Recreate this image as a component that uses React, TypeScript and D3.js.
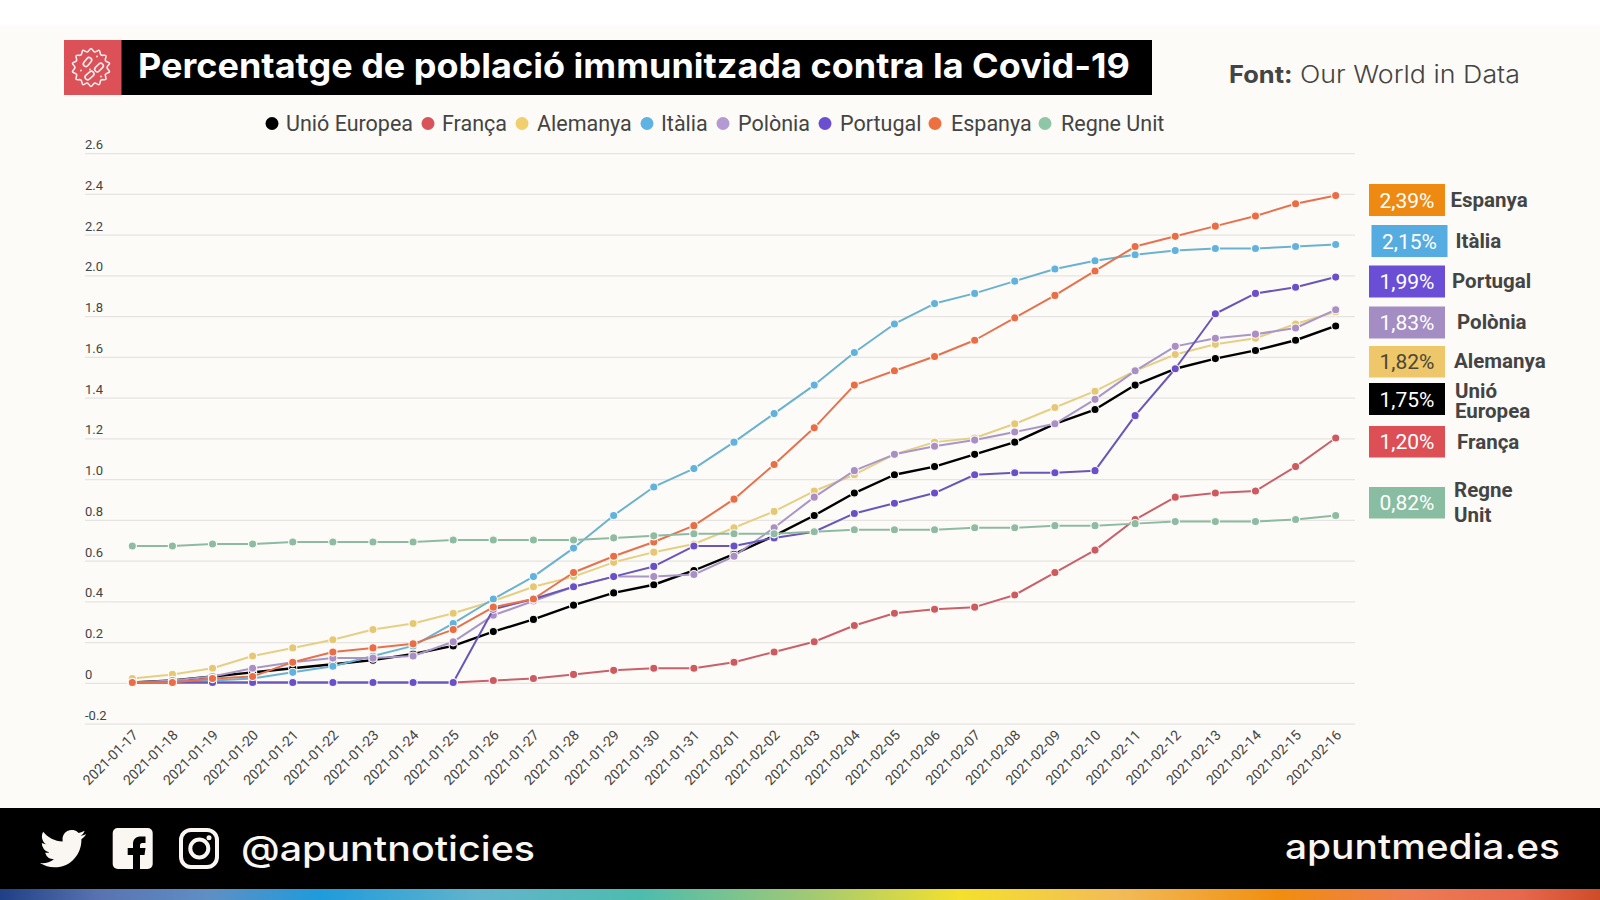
import React from "react";
import * as d3 from "d3";

const dates = ["2021-01-17","2021-01-18","2021-01-19","2021-01-20","2021-01-21","2021-01-22","2021-01-23","2021-01-24","2021-01-25","2021-01-26","2021-01-27","2021-01-28","2021-01-29","2021-01-30","2021-01-31","2021-02-01","2021-02-02","2021-02-03","2021-02-04","2021-02-05","2021-02-06","2021-02-07","2021-02-08","2021-02-09","2021-02-10","2021-02-11","2021-02-12","2021-02-13","2021-02-14","2021-02-15","2021-02-16"];
const yTicks = [-0.2,0,0.2,0.4,0.6,0.8,1.0,1.2,1.4,1.6,1.8,2.0,2.2,2.4,2.6];

const unioEuropea = [0,0.01,0.03,0.05,0.07,0.09,0.11,0.14,0.18,0.25,0.31,0.38,0.44,0.48,0.55,0.63,0.72,0.82,0.93,1.02,1.06,1.12,1.18,1.27,1.34,1.46,1.54,1.59,1.63,1.68,1.75];
const franca = [0,0,0,0,0,0,0,0,0,0.01,0.02,0.04,0.06,0.07,0.07,0.10,0.15,0.20,0.28,0.34,0.36,0.37,0.43,0.54,0.65,0.80,0.91,0.93,0.94,1.06,1.20];
const alemanya = [0.02,0.04,0.07,0.13,0.17,0.21,0.26,0.29,0.34,0.40,0.47,0.52,0.59,0.64,0.68,0.76,0.84,0.94,1.02,1.12,1.18,1.20,1.27,1.35,1.43,1.53,1.61,1.66,1.69,1.76,1.82];
const italia = [0,0.005,0.01,0.02,0.05,0.08,0.13,0.18,0.29,0.41,0.52,0.66,0.82,0.96,1.05,1.18,1.32,1.46,1.62,1.76,1.86,1.91,1.97,2.03,2.07,2.10,2.12,2.13,2.13,2.14,2.15];
const polonia = [0,0.01,0.03,0.07,0.10,0.12,0.12,0.13,0.20,0.33,0.40,0.47,0.52,0.52,0.53,0.62,0.76,0.91,1.04,1.12,1.16,1.19,1.23,1.27,1.39,1.53,1.65,1.69,1.71,1.74,1.83];
const portugal = [0,0,0,0,0,0,0,0,0,0.36,0.41,0.47,0.52,0.57,0.67,0.67,0.71,0.74,0.83,0.88,0.93,1.02,1.03,1.03,1.04,1.31,1.54,1.81,1.91,1.94,1.99];
const espanya = [0,0,0.02,0.03,0.10,0.15,0.17,0.19,0.26,0.37,0.41,0.54,0.62,0.69,0.77,0.90,1.07,1.25,1.46,1.53,1.60,1.68,1.79,1.90,2.02,2.14,2.19,2.24,2.29,2.35,2.39];
const regneUnit = [0.67,0.67,0.68,0.68,0.69,0.69,0.69,0.69,0.70,0.70,0.70,0.70,0.71,0.72,0.73,0.73,0.73,0.74,0.75,0.75,0.75,0.76,0.76,0.77,0.77,0.78,0.79,0.79,0.79,0.80,0.82];

const seriesList = [
  { name: "Unió Europea", values: unioEuropea, line: "#000000", dot: "#000000", w: 2.4 },
  { name: "França", values: franca, line: "#c9606a", dot: "#cc5a5f", w: 2 },
  { name: "Alemanya", values: alemanya, line: "#e6cf85", dot: "#e6c874", w: 2 },
  { name: "Itàlia", values: italia, line: "#6bb2d0", dot: "#62b2de", w: 2 },
  { name: "Polònia", values: polonia, line: "#a896c8", dot: "#a98fc4", w: 2 },
  { name: "Portugal", values: portugal, line: "#6a55b8", dot: "#6a50c8", w: 2 },
  { name: "Espanya", values: espanya, line: "#e5714e", dot: "#e96d45", w: 2 },
  { name: "Regne Unit", values: regneUnit, line: "#8fbaa2", dot: "#8fbba3", w: 2 },
];

const legendDotX = [272, 428, 522, 647, 723, 825, 935, 1045];
const legendTextX = [286, 442, 537, 661, 738, 840, 951, 1061];
const legendDots = ["#000000", "#d9545a", "#f0cf6c", "#5fb3e3", "#b39ad2", "#6a4fd0", "#ee7040", "#8fc6a8"];

const badges = [
  { v: "2,39%", c: "#ee8a12", x: 1369, y: 184, h: 32, t: "#ffffff", label: ["Espanya"], lx: 1450.5, ly: [207] },
  { v: "2,15%", c: "#55ace0", x: 1371.5, y: 225, h: 32, t: "#ffffff", label: ["Itàlia"], lx: 1455.5, ly: [248] },
  { v: "1,99%", c: "#6a4ed6", x: 1369, y: 265.5, h: 32, t: "#ffffff", label: ["Portugal"], lx: 1452, ly: [288] },
  { v: "1,83%", c: "#a38dc2", x: 1369, y: 306.5, h: 32, t: "#ffffff", label: ["Polònia"], lx: 1457, ly: [329] },
  { v: "1,82%", c: "#eec76a", x: 1369, y: 346, h: 31.5, t: "#4a4636", label: ["Alemanya"], lx: 1454, ly: [368] },
  { v: "1,75%", c: "#000000", x: 1369, y: 383, h: 32, t: "#ffffff", label: ["Unió", "Europea"], lx: 1455, ly: [398, 418] },
  { v: "1,20%", c: "#dc4f55", x: 1369, y: 426, h: 31.5, t: "#ffffff", label: ["França"], lx: 1457, ly: [449] },
  { v: "0,82%", c: "#88bda2", x: 1369, y: 487, h: 31.5, t: "#ffffff", label: ["Regne", "Unit"], lx: 1454, ly: [497, 522] },
];

const gradientStops: [number, string][] = [
  [0, "#1f3f86"], [0.06, "#5872b0"], [0.13, "#5f8fc4"], [0.2, "#1f9bdc"], [0.3, "#62b4cc"], [0.4, "#4dbcae"],
  [0.5, "#9cc878"], [0.6, "#f4e02e"], [0.7, "#f2bb58"], [0.8, "#f18d10"], [0.88, "#ee7c52"], [0.95, "#e6684e"], [1, "#cf4c28"],
];

const W = 1600, H = 900;
const x = d3.scalePoint<string>().domain(dates).range([132.3, 1335.7]);
const y = d3.scaleLinear().domain([-0.2, 2.6]).range([724.1, 153.6]);
const seriesY = (v: number) => y(v) - 0.8;
const lineGen = d3.line<number>().x((_, i) => x(dates[i]) as number).y((d) => seriesY(d));

const sans = "Roboto, sans-serif";
const display = "Inter, 'Open Sans', sans-serif";

const gearPath = d3.lineRadial<number>().curve(d3.curveCatmullRomClosed)
  .angle((_, i) => (i / 28) * 2 * Math.PI)
  .radius((_, i) => (i % 2 === 0 ? 19 : 16))(d3.range(28)) as string;

const pills = [[-3.5, -5.5, 50], [8, 0, 45], [-1.5, 8, 40]];
const specks = [[6, -11], [-10, 3], [-1, 2], [10, 9]];

const twitter = "M23.953 4.57a10 10 0 01-2.825.775 4.958 4.958 0 002.163-2.723c-.951.555-2.005.959-3.127 1.184a4.92 4.92 0 00-8.384 4.482C7.69 8.095 4.067 6.13 1.64 3.162a4.822 4.822 0 00-.666 2.475c0 1.71.87 3.213 2.188 4.096a4.904 4.904 0 01-2.228-.616v.06a4.923 4.923 0 003.946 4.827 4.996 4.996 0 01-2.212.085 4.936 4.936 0 004.604 3.417 9.867 9.867 0 01-6.102 2.105c-.39 0-.779-.023-1.17-.067a13.995 13.995 0 007.557 2.209c9.053 0 13.998-7.496 13.998-13.985 0-.21 0-.42-.015-.63A9.935 9.935 0 0024 4.59z";

export default function App() {
  return (
    <svg width={W} height={H} viewBox={`0 0 ${W} ${H}`} style={{ position: "absolute", left: 0, top: 0, display: "block" }}>
      <defs>
        <linearGradient id="rainbow" x1="0" x2="1" y1="0" y2="0">
          {gradientStops.map(([o, c]) => <stop key={o} offset={o} stopColor={c} />)}
        </linearGradient>
      </defs>
      <rect width={W} height={H} fill="#ffffff" />
      <rect y={26} width={W} height={782} fill="#fcfbf7" />

      {/* Title */}
      <rect x={64} y={40} width={1088} height={55} fill="#000000" />
      <rect x={64} y={40} width={57.5} height={55} fill="#dc5058" />
      <g transform="translate(91,67.5)" fill="none" stroke="#fbeeee" strokeWidth={1.6}>
        <path d={gearPath} />
        {pills.map(([px, py, r], i) => (
          <rect key={i} x={-5} y={-2.6} width={10} height={5.2} rx={2.6} transform={`translate(${px},${py}) rotate(${-r})`} />
        ))}
        {specks.map(([sx, sy], i) => <circle key={i} cx={sx} cy={sy} r={0.9} fill="#fbeeee" stroke="none" />)}
      </g>
      <text x={138} y={78} fontFamily={display} fontWeight={700} fontSize={34} fill="#ffffff" textLength={992} lengthAdjust="spacingAndGlyphs">Percentatge de població immunitzada contra la Covid-19</text>
      <text x={1229} y={83} fontFamily={display} fontWeight={700} fontSize={24} fill="#444444" textLength={63.5} lengthAdjust="spacingAndGlyphs">Font:</text>
      <text x={1300} y={83} fontFamily={display} fontWeight={300} fontSize={24} fill="#444444" textLength={220} lengthAdjust="spacingAndGlyphs">Our World in Data</text>

      {/* Legend */}
      {seriesList.map((s, i) => (
        <g key={s.name}>
          <circle cx={legendDotX[i]} cy={123.5} r={6.5} fill={legendDots[i]} />
          <text x={legendTextX[i]} y={131} fontFamily={sans} fontSize={21.5} fill="#444444">{s.name}</text>
        </g>
      ))}

      {/* Grid and axes */}
      {yTicks.map((t) => (
        <g key={t}>
          <line x1={85} x2={1355} y1={y(t)} y2={y(t)} stroke="#e6e4e0" strokeWidth={1.3} />
          <text x={85} y={y(t) - 4.6} fontFamily={sans} fontSize={13} fill="#444444">{t === 0 ? "0" : t.toFixed(1)}</text>
        </g>
      ))}
      {dates.map((d) => (
        <text key={d} transform={`translate(${(x(d) as number) + 6.5},736) rotate(-45)`} textAnchor="end" fontFamily={sans} fontSize={14} fill="#444444">{d}</text>
      ))}

      {/* Series */}
      {seriesList.map((s) => (
        <g key={s.name}>
          <path d={lineGen(s.values) as string} fill="none" stroke={s.line} strokeWidth={s.w} strokeLinejoin="round" />
          {s.values.map((v, i) => (
            <circle key={i} cx={x(dates[i]) as number} cy={seriesY(v)} r={4.1} fill={s.dot} stroke="#fdfcf9" strokeWidth={1.1} />
          ))}
        </g>
      ))}

      {/* End labels */}
      {badges.map((b) => (
        <g key={b.v}>
          <rect x={b.x} y={b.y} width={76} height={b.h} fill={b.c} />
          <text x={b.x + 38} y={b.y + b.h / 2 + 7.5} textAnchor="middle" fontFamily={sans} fontSize={21} fill={b.t}>{b.v}</text>
          {b.label.map((l, i) => (
            <text key={l} x={b.lx} y={b.ly[i]} fontFamily={sans} fontWeight={700} fontSize={20.5} fill="#444444">{l}</text>
          ))}
        </g>
      ))}

      {/* Footer */}
      <rect y={808} width={W} height={81} fill="#000000" />
      <rect y={889} width={W} height={11} fill="url(#rainbow)" />
      <path d={twitter} transform="translate(40,825.6) scale(1.92)" fill="#faf6f2" />
      <rect x={112.7} y={828} width={40} height={41} rx={5} fill="#faf6f2" />
      <path d="M133,869 V855 h-5.3 v-7 h5.3 v-4 c0,-5 3,-7.5 8,-7.5 h4.5 v6.5 h-3 c-2,0 -2.5,1 -2.5,2.5 v2.5 h5.5 l-1,7 h-4.5 V869 z" fill="#000000" />
      <g fill="none" stroke="#faf6f2" strokeWidth={4}>
        <rect x={181} y={830} width={36} height={37} rx={10} />
        <circle cx={199.3} cy={848.5} r={9} />
      </g>
      <circle cx={209} cy={837.8} r={2.5} fill="#faf6f2" />
      <text x={241} y={861} fontFamily={display} fontWeight={500} fontSize={35} fill="#faf6f2" textLength={294} lengthAdjust="spacingAndGlyphs">@apuntnoticies</text>
      <text x={1285} y={859} fontFamily={display} fontWeight={500} fontSize={35} fill="#faf6f2" textLength={275} lengthAdjust="spacingAndGlyphs">apuntmedia.es</text>
    </svg>
  );
}
